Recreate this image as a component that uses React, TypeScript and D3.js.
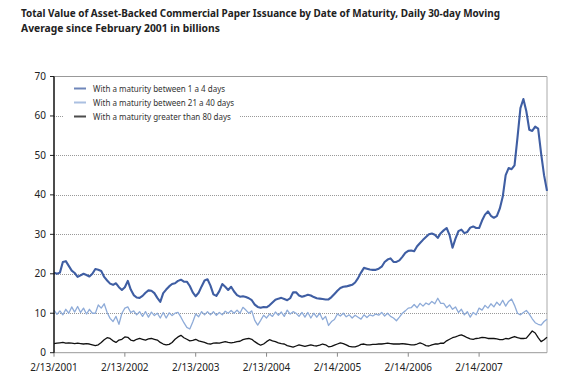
import React from "react";
import * as d3 from "d3";

const titleLines = [
  "Total Value of Asset-Backed Commercial Paper Issuance by Date of Maturity, Daily 30-day Moving",
  "Average since February 2001 in billions",
];
const xTickYears = [0, 1, 2, 3, 4, 5, 6];
const xTickLabels = ["2/13/2001", "2/13/2002", "2/13/2003", "2/13/2004", "2/14/2005", "2/14/2006", "2/14/2007"];
const yTicks = [0, 10, 20, 30, 40, 50, 60, 70];
const seriesNames = [
  "With a maturity between 1 a 4 days",
  "With a maturity between 21 a 40 days",
  "With a maturity greater than 80 days",
];
const seriesColors = ["#3f5ea3", "#8eabd8", "#111111"];
const seriesWidths = [2.1, 1.3, 1.3];
// half-month steps (1/24 year) starting 2/13/2001
const stepsPerYear = 24;

const short = [
  20.3, 20.0, 20.3, 23.0, 23.2, 22.0, 20.8, 20.2, 19.2, 19.6, 20.0, 19.7, 19.3, 20.0, 21.2, 21.0, 20.7, 19.2, 18.3, 17.5,
  17.2, 17.6, 16.6, 15.9, 16.6, 18.2, 16.0, 14.6, 14.0, 13.9, 14.4, 15.2, 15.8, 15.7, 15.1, 13.9, 12.9, 15.1, 16.0, 16.8,
  17.4, 17.6, 18.2, 18.5, 18.0, 18.0, 16.9, 15.3, 14.3, 15.2, 16.8, 18.3, 18.6, 17.0, 14.8, 14.4, 15.6, 17.4, 16.7, 15.9,
  16.7, 15.5, 14.6, 14.2, 14.3, 14.1, 13.8, 13.3, 12.2, 11.6, 11.4, 11.6, 11.5, 12.0, 12.7, 13.4, 13.7, 13.9, 13.6, 13.3,
  13.8, 15.3, 15.3, 14.5, 14.2, 14.4, 14.7, 14.5, 14.1, 13.8, 13.7, 13.6, 13.5, 13.5, 14.1, 14.9, 15.7, 16.4, 16.7, 16.8,
  17.0, 17.2, 17.8, 18.9, 20.3, 21.5, 21.3, 21.1, 21.0, 21.0, 21.3, 21.8, 23.0, 23.6, 23.9, 23.0, 23.0, 23.4, 24.3, 25.3,
  25.8, 25.9, 25.7, 27.0, 27.8, 28.6, 29.3, 30.0, 30.2, 29.9, 29.1, 30.3, 31.0, 31.6, 29.8, 26.6, 28.9, 30.8, 31.2, 30.3,
  30.6, 31.7, 32.0, 31.6, 31.6, 33.5, 35.0, 35.8, 34.7, 34.2, 34.6, 36.5, 39.5, 45.0, 46.8, 46.5, 47.5, 54.5, 62.0, 64.3,
  61.2, 56.5, 56.2, 57.3, 56.8, 50.5, 45.0, 41.0,
];

const mid = [
  10.8, 9.7, 10.6, 9.6, 11.0, 10.0, 11.6, 10.3, 11.7, 10.2, 11.3, 9.8, 11.0, 10.0, 10.0, 12.1, 11.3, 12.4, 10.2, 8.7,
  7.9, 9.2, 7.2, 10.0, 11.3, 11.6, 10.2, 10.6, 9.6, 10.4, 9.2, 10.4, 9.0, 10.3, 9.4, 10.0, 8.8, 10.2, 8.8, 10.1,
  9.4, 10.0, 10.2, 9.0, 7.6, 6.4, 6.0, 7.8, 9.8, 9.1, 10.4, 9.6, 10.4, 9.6, 10.4, 9.5, 10.2, 9.6, 10.5, 10.0,
  10.7, 10.0, 10.8, 10.0, 11.5, 10.8, 10.0, 10.6, 8.2, 7.0, 8.2, 9.5, 8.8, 9.8, 9.2, 10.3, 9.5, 10.3, 9.2, 10.8,
  9.8, 10.4, 10.0, 9.2, 10.2, 9.0, 10.2, 8.8, 10.0, 9.0, 10.0, 8.4, 9.2, 6.9, 7.9, 8.4, 9.8, 9.3, 10.0, 9.1,
  9.6, 8.8, 9.5, 9.0, 8.5, 9.6, 8.9, 9.6, 9.3, 9.8, 9.5, 10.2, 9.3, 10.0, 9.2, 8.8, 8.1, 9.0, 10.0, 10.6,
  11.3, 11.4, 12.2, 11.4, 12.5, 11.8, 12.6, 12.2, 13.0, 12.4, 13.8, 12.5, 12.5, 11.4, 12.1, 11.0, 11.6, 10.2, 11.0, 9.6,
  10.4, 9.0, 10.2, 9.6, 11.3, 10.8, 12.0, 11.3, 12.4, 11.6, 12.8, 12.0, 13.3, 11.8, 13.0, 13.6, 12.0, 10.0, 9.6, 10.2,
  10.7, 9.8, 8.6, 7.6, 7.2, 7.0, 7.9, 8.5,
];

const long = [
  2.3, 2.4, 2.5, 2.6, 2.4, 2.5, 2.4, 2.3, 2.4, 2.3, 2.2, 2.3, 2.2, 2.0, 1.8, 2.0, 2.6, 3.3, 3.8, 3.6,
  3.0, 2.6, 3.2, 3.4, 4.0, 3.9, 3.2, 3.0, 3.4, 3.6, 3.4, 3.2, 3.5, 3.6, 3.4, 3.2, 2.6, 2.2, 2.0, 2.1,
  2.6, 3.4, 4.0, 4.4, 3.8, 3.4, 3.0, 3.1, 3.4, 3.0, 2.8, 2.6, 2.3, 2.2, 2.4, 2.5, 2.4, 2.6, 2.8, 2.6,
  2.5, 2.6, 2.8, 2.9, 3.3, 3.5, 3.6, 3.4, 2.8, 2.3, 1.9, 2.2, 2.8, 3.3, 3.0, 2.8, 2.5, 2.3, 2.2, 1.8,
  1.6, 1.4, 1.7, 2.0, 1.8, 1.6, 1.8, 2.0, 1.8, 1.7, 1.9, 2.2, 2.0, 1.5, 1.6, 1.9, 2.2, 2.5, 2.3, 2.0,
  1.6, 1.5, 1.5, 1.7, 2.1, 2.2, 2.0, 2.0, 2.1, 2.1, 2.2, 2.2, 2.3, 2.4, 2.3, 2.2, 2.2, 2.2, 2.3, 2.2,
  2.1, 2.0, 2.0, 2.2, 2.5, 2.2, 1.8, 1.7, 2.0, 2.2, 2.2, 2.4, 2.4, 3.0, 3.4, 3.8, 4.0, 4.3, 4.5, 4.2,
  3.8, 3.5, 3.4, 3.6, 3.7, 3.9, 3.8, 3.6, 3.6, 3.6, 3.5, 3.3, 3.3, 3.6, 3.5, 3.8, 4.1, 3.8, 3.6, 3.6,
  3.7, 4.6, 5.5, 5.0, 3.8, 2.8, 3.3, 3.9,
];

const allSeries = [short, mid, long];

export default function App() {
  const W = 566;
  const H = 379;
  const left = 54;
  const right = 547;
  const top = 76.5;
  const bottom = 352.7;
  const nSteps = short.length - 1;
  const x = d3.scaleLinear().domain([0, nSteps / stepsPerYear]).range([left, right]);
  const y = d3.scaleLinear().domain([0, 70]).range([bottom, top]);
  const line = d3
    .line<number>()
    .x((_, i) => x(i / stepsPerYear))
    .y((d) => y(d))
    .curve(d3.curveLinear);
  const font = "'Noto Sans', 'Open Sans', sans-serif";

  return (
    <svg width={W} height={H} style={{ position: "absolute", left: 0, top: 0, background: "#fff" }}>
      <rect x={0} y={0} width={W} height={H} fill="#fff" />
      {titleLines.map((t, i) => (
        <text
          key={i}
          x={21}
          y={17 + i * 14.5}
          fontFamily={font}
          fontWeight="bold"
          fontSize={10.3}
          fill="#222"
          {...(i === 0 ? { textLength: 479, lengthAdjust: "spacingAndGlyphs" } : {})}
        >
          {t}
        </text>
      ))}
      {/* grid */}
      {yTicks
        .filter((v) => v > 0 && v < 70)
        .map((v) => (
          <line
            key={v}
            x1={left}
            x2={right}
            y1={Math.round(y(v)) + 0.5}
            y2={Math.round(y(v)) + 0.5}
            stroke="#999"
            strokeWidth={1}
            strokeDasharray="1,1"
          />
        ))}
      {/* frame top/right */}
      <line x1={left} x2={right} y1={top} y2={top} stroke="#999" strokeWidth={1} />
      <line x1={right} x2={right} y1={top} y2={bottom} stroke="#aaa" strokeWidth={1} />
      {/* x axis */}
      <line x1={left} x2={right} y1={bottom} y2={bottom} stroke="#999" strokeWidth={1} />
      {xTickYears.map((v, i) => (
        <g key={v}>
          <line x1={x(v)} x2={x(v)} y1={bottom} y2={bottom + 4} stroke="#888" strokeWidth={1} />
          <text x={x(v)} y={371} textAnchor="middle" fontFamily={font} fontSize={10} fill="#222">
            {xTickLabels[i]}
          </text>
        </g>
      ))}
      {/* y axis */}
      {yTicks.map((v) => (
        <g key={v}>
          <line x1={left - 4} x2={left} y1={y(v)} y2={y(v)} stroke="#222" strokeWidth={1} />
          <text x={46} y={y(v) + 3.5} textAnchor="end" fontFamily={font} fontSize={10} fill="#222">
            {v}
          </text>
        </g>
      ))}
      {/* legend box */}
      <rect x={64} y={81} width={176} height={42} fill="#fff" />
      {seriesNames.map((n, i) => (
        <g key={n}>
          <line x1={74} x2={86} y1={88.5 + i * 14} y2={88.5 + i * 14} stroke={seriesColors[i]} strokeWidth={2} opacity={0.75} />
          <text x={93} y={91.5 + i * 14} fontFamily={font} fontSize={8} fill="#333">
            {n}
          </text>
        </g>
      ))}
      {/* series */}
      {[2, 1, 0].map((si) => (
        <path
          key={si}
          d={line(allSeries[si]) || ""}
          fill="none"
          stroke={seriesColors[si]}
          strokeWidth={seriesWidths[si]}
          strokeLinejoin="round"
        />
      ))}
      <line x1={left} x2={left} y1={top} y2={bottom} stroke="#111" strokeWidth={1.5} />
    </svg>
  );
}
